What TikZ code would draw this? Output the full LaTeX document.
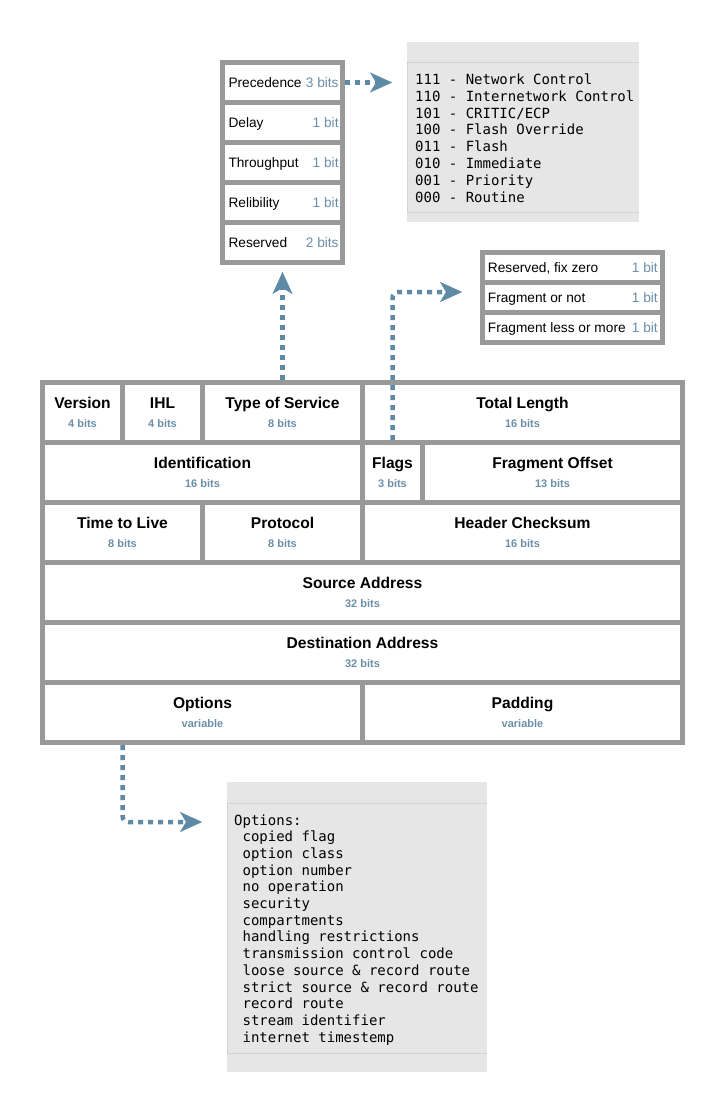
\documentclass[tikz,border=0pt]{standalone}
\usepackage{fontspec}
\setmainfont{Liberation Sans}
\newfontfamily\monofont{DejaVu Sans Mono}
\usetikzlibrary{arrows.meta,calc}
\definecolor{bordergray}{HTML}{999999}
\definecolor{arrowblue}{HTML}{5E8AA6}
\definecolor{bitblue}{HTML}{6B8FAA}
\definecolor{boxgray}{HTML}{E6E6E6}
\definecolor{linegray}{HTML}{D2D2D2}
\tikzset{
  cell/.style={draw=bordergray, line width=5pt, fill=white, inner sep=0pt, outer sep=0pt},
  lbl/.style={anchor=base, inner sep=0pt, text=black, font=\fontsize{15.6}{18}\selectfont\bfseries},
  bitlbl/.style={anchor=base, inner sep=0pt, text=bitblue, font=\fontsize{11}{13}\selectfont\bfseries},
  leftlbl/.style={anchor=base west, inner sep=0pt, text=black, font=\fontsize{13.7}{16}\selectfont},
  rightlbl/.style={anchor=base east, inner sep=0pt, text=bitblue, font=\fontsize{13.7}{16}\selectfont},
  mono/.style={anchor=base west, inner sep=0pt, text=black, font=\monofont\fontsize{14}{17}\selectfont},
  graybox/.style={fill=boxgray, inner sep=0pt, outer sep=0pt},
  sepline/.style={draw=linegray, line width=1pt},
  arr/.style={draw=arrowblue, line width=4.5pt, dash pattern=on 5pt off 5pt,
    -{Stealth[length=22pt, width=20pt, inset=6pt, line width=0.1pt]}},
}
\newcommand\ipcell[7]{%
  \node[cell, minimum width={#4-#2}, minimum height={#5-#3}] (#1) at ({(#2+#4)/2},{(#3+#5)/2}) {};
  \node[lbl] (#1-l) at ({(#2+#4)/2},{#3+26}) {#6};
  \node[bitlbl] (#1-b) at ({(#2+#4)/2},{#3+45.3}) {#7};}
\newcommand\toscell[4]{%
  \node[cell, minimum width=120, minimum height=40] (#1) at (282.5,{#2+20}) {};
  \node[leftlbl] (#1-l) at (228.3,{#2+25}) {#3};
  \node[rightlbl] (#1-b) at (338.8,{#2+25}) {#4};}
\newcommand\flagcell[4]{%
  \node[cell, minimum width=180, minimum height=30] (#1) at (572.5,{#2+15}) {};
  \node[leftlbl] (#1-l) at (487.7,{#2+19.5}) {#3};
  \node[rightlbl] (#1-b) at (658,{#2+19.5}) {#4};}
\begin{document}
\begin{tikzpicture}[x=1pt, y=-1pt]
\useasboundingbox (0,0) rectangle (725,1105);

% main header table
\ipcell{ver}{42.5}{382.5}{122.5}{442.5}{Version}{4 bits}
\ipcell{ihl}{122.5}{382.5}{202.5}{442.5}{IHL}{4 bits}
\ipcell{tos}{202.5}{382.5}{362.5}{442.5}{Type of Service}{8 bits}
\ipcell{tlen}{362.5}{382.5}{682.5}{442.5}{Total Length}{16 bits}
\ipcell{ident}{42.5}{442.5}{362.5}{502.5}{Identification}{16 bits}
\ipcell{flags}{362.5}{442.5}{422.5}{502.5}{Flags}{3 bits}
\ipcell{foff}{422.5}{442.5}{682.5}{502.5}{Fragment Offset}{13 bits}
\ipcell{ttl}{42.5}{502.5}{202.5}{562.5}{Time to Live}{8 bits}
\ipcell{proto}{202.5}{502.5}{362.5}{562.5}{Protocol}{8 bits}
\ipcell{csum}{362.5}{502.5}{682.5}{562.5}{Header Checksum}{16 bits}
\ipcell{src}{42.5}{562.5}{682.5}{622.5}{Source Address}{32 bits}
\ipcell{dst}{42.5}{622.5}{682.5}{682.5}{Destination Address}{32 bits}
\ipcell{opt}{42.5}{682.5}{362.5}{742.5}{Options}{variable}
\ipcell{pad}{362.5}{682.5}{682.5}{742.5}{Padding}{variable}

% type of service breakdown
\toscell{pre}{62.5}{Precedence}{3 bits}
\toscell{del}{102.5}{Delay}{1 bit}
\toscell{thr}{142.5}{Throughput}{1 bit}
\toscell{rel}{182.5}{Relibility}{1 bit}
\toscell{res}{222.5}{Reserved}{2 bits}

% flags breakdown
\flagcell{fz}{252.5}{Reserved, fix zero}{1 bit}
\flagcell{fn}{282.5}{Fragment or not}{1 bit}
\flagcell{fl}{312.5}{Fragment less or more}{1 bit}

% precedence codes
\node[graybox, minimum width=232, minimum height=179.7] (codebox) at (523,131.85) {};
\draw[sepline] (407,63) -- (639,63);
\draw[sepline] (407,212) -- (639,212);
\draw[sepline] (407.5,63) -- (407.5,212);
\foreach \t [count=\i from 0] in {{111 - Network Control},{110 - Internetwork Control},{101 - CRITIC/ECP},{100 - Flash Override},{011 - Flash},{010 - Immediate},{001 - Priority},{000 - Routine}}
  \node[mono] (code\i) at (415,{84.3+\i*16.86}) {\t};

% options list
\node[graybox, minimum width=260, minimum height=290] (optbox) at (357,927) {};
\draw[sepline] (227,803) -- (487,803);
\draw[sepline] (227,1053) -- (487,1053);
\draw[sepline] (227.5,803) -- (227.5,1053);
\node[mono] (opt0) at (234,825) {Options:};
\foreach \t [count=\i from 1] in {{copied flag},{option class},{option number},{no operation},{security},{compartments},{handling restrictions},{transmission control code},{loose source \& record route},{strict source \& record route},{record route},{stream identifier},{internet timestemp}}
  \node[mono] (opt\i) at (242.4,{825+\i*16.7}) {\t};

% connectors
\draw[arr, shorten <=2.5pt, shorten >=15pt] (pre.east) -- (pre.east -| codebox.west);
\draw[arr, shorten <=2.5pt, shorten >=9.5pt] (tos.north) -- (res.south);
\coordinate (flagsin) at (fz.west |- 0,292);
\draw[arr, rounded corners=6pt, shorten <=2.5pt, shorten >=20.5pt] (flags.north) |- (flagsin);
\coordinate (optout) at ($(opt.south west)+(80,0)$);
\coordinate (optin) at (optbox.west |- 0,822);
\draw[arr, rounded corners=6pt, shorten <=2.5pt, shorten >=25pt] (optout) |- (optin);
\end{tikzpicture}
\end{document}
